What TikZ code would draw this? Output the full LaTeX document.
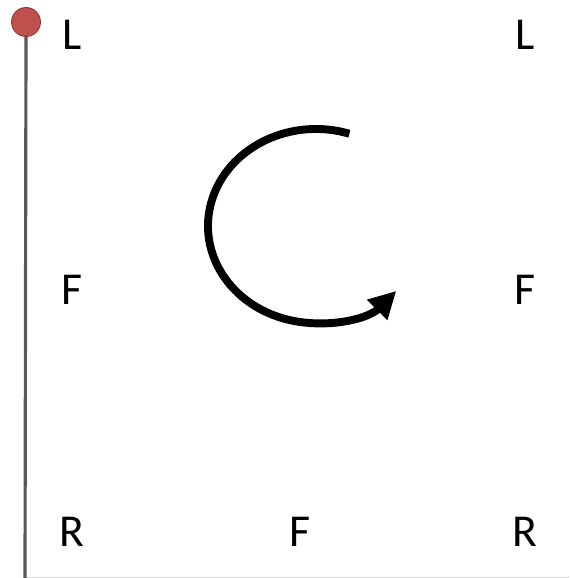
\documentclass[tikz,border=0pt]{standalone}
\usepackage{fontspec}
\setmainfont{Carlito}
\usepackage{tikz}
\usetikzlibrary{positioning, arrows.meta}

\definecolor{pinred}{HTML}{C0504D}
\definecolor{pinedge}{HTML}{8C3836}
\definecolor{poleGray}{HTML}{595959}
\definecolor{floorGray}{HTML}{D9D9D9}

\begin{document}
\begin{tikzpicture}[x=0.02cm, y=0.02cm, on grid,
    side/.style={font=\fontsize{26}{30}\selectfont, inner sep=0pt},
    turn/.style={line width=4.5pt, -{Triangle[length=0.54cm, width=0.54cm]}}]
    \useasboundingbox (0,0) rectangle (569,578);

    % floor and pole
    \coordinate (floorL) at (25,0.5);
    \coordinate (floorR) at (569,0.5);
    \draw[floorGray, line width=0.8pt] (floorL) -- (floorR);

    \node[circle, fill=pinred, draw=pinedge, line width=0.5pt, minimum size=0.58cm, inner sep=0pt] (pin) at (26,556) {};
    \coordinate (base) at (25,0);
    \draw[poleGray, line width=1.8pt] (pin.south) -- (base);

    % labels
    \node[side] (L1) at (72,543) {L};
    \node[side, right=9.06cm of L1] (L2) {L};
    \node[side, below=5.1cm of L1] (F1) {F};
    \node[side, below=5.1cm of L2] (F2) {F};
    \node[side, below=4.84cm of F1] (R1) {R};
    \node[side, below=4.84cm of F2] (R2) {R};
    \node[side, right=4.56cm of R1] (F3) {F};

    % rotation arrow
    \coordinate (ctr) at (316,352);
    \draw[turn] ([shift={(108*cos 72, 97*sin 72)}]ctr)
        arc[start angle=72, end angle=318, x radius=108, y radius=97];
\end{tikzpicture}
\end{document}
